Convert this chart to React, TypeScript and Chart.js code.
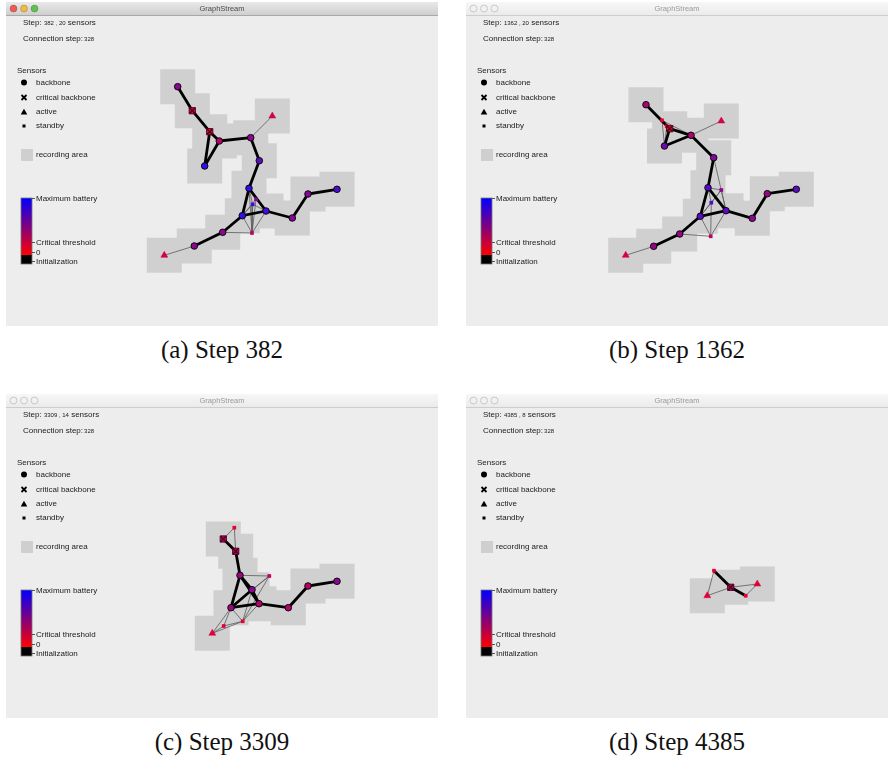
import React, { useEffect, useRef } from "react";
import { Chart, registerables } from "chart.js";
Chart.register(...registerables);

// ---------- Panel (a) Step 382 ----------
const aX = [177.7, 192.3, 209.7, 219.3, 204.7, 250.7, 272.3, 259.3, 249, 256, 252.7, 266, 242.3, 292.3, 308, 337, 222.7, 252, 194.3, 164.3];
const aY = [86.7, 110.7, 131.7, 141, 166, 137.7, 116, 160.7, 188.3, 199.3, 204.3, 211, 215.7, 218, 194, 189.3, 232.3, 233, 246, 255.3];
const aKind = ["b", "c", "c", "b", "b", "b", "a", "b", "b", "s", "s", "b", "b", "b", "b", "b", "b", "s", "b", "a"];
const aBattery = [0.5, 0.1, 0.1, 0.3, 0.95, 0.5, 0.15, 0.75, 0.95, 0.55, 0.9, 0.9, 0.95, 0.55, 0.55, 0.85, 0.5, 0.25, 0.5, 0.15];
const aThick = [[0, 1], [1, 2], [2, 3], [2, 4], [3, 4], [3, 5], [5, 7], [7, 8], [8, 12], [8, 11], [12, 11], [11, 13], [13, 14], [14, 15], [12, 16], [16, 18]];
const aThin = [[5, 6], [18, 19], [16, 17], [12, 17], [8, 17], [9, 17], [10, 17], [11, 17], [8, 9], [8, 10], [9, 11], [10, 11], [9, 12], [10, 12]];

// ---------- Panel (b) Step 1362 ----------
const bX = [646, 662, 666.7, 669.7, 664.5, 691, 721.3, 713.7, 708, 721.3, 711.3, 726, 700.3, 752.3, 767.3, 796.3, 679.7, 710.7, 653.7, 625.7];
const bY = [104.7, 120.3, 126.3, 128.7, 146, 135.3, 121, 157.7, 187.7, 190, 202.7, 210.7, 216.3, 218.3, 193.7, 189.3, 234, 236.3, 246.3, 255.3];
const bKind = ["b", "s", "s", "c", "b", "b", "a", "b", "b", "s", "s", "b", "b", "b", "b", "b", "b", "s", "b", "a"];
const bBattery = [0.35, 0.02, 0.02, 0.05, 0.65, 0.35, 0.12, 0.55, 0.78, 0.5, 0.85, 0.75, 0.78, 0.5, 0.45, 0.75, 0.45, 0.25, 0.45, 0.12];
const bThick = [[0, 3], [3, 4], [3, 5], [4, 5], [5, 7], [7, 8], [8, 12], [8, 11], [12, 11], [11, 13], [13, 14], [14, 15], [12, 16], [16, 18]];
const bThin = [[0, 1], [1, 4], [1, 5], [2, 4], [2, 5], [5, 6], [7, 11], [8, 9], [8, 10], [9, 11], [9, 10], [10, 12], [10, 17], [12, 17], [11, 17], [16, 17], [18, 19], [12, 9]];

// ---------- Panel (c) Step 3309 ----------
const cX = [234.3, 223.3, 235.7, 240, 269.3, 252, 259, 231, 288.3, 308, 337, 242.7, 223.7, 212.3];
const cY = [527.7, 539, 551.3, 575.3, 576, 589.7, 603.7, 607.7, 607.7, 586, 581.3, 621.3, 626, 633.3];
const cKind = ["s", "c", "c", "b", "s", "b", "b", "b", "b", "b", "b", "s", "s", "a"];
const cBattery = [0.02, 0.3, 0.3, 0.45, 0.25, 0.5, 0.3, 0.4, 0.3, 0.3, 0.5, 0.05, 0.05, 0.08];
const cThick = [[1, 2], [2, 3], [3, 7], [3, 6], [3, 5], [5, 7], [5, 6], [6, 7], [6, 8], [8, 9], [9, 10]];
const cThin = [[0, 1], [0, 2], [3, 4], [4, 5], [4, 7], [4, 11], [5, 11], [7, 11], [7, 12], [7, 13], [6, 11], [11, 12], [11, 13], [12, 13]];

// ---------- Panel (d) Step 4385 ----------
const dX = [714, 707.3, 730.7, 757.3, 745.7];
const dY = [570.7, 595.7, 587.3, 584, 595.7];
const dKind = ["s", "a", "c", "a", "s"];
const dBattery = [0.02, 0.05, 0.3, 0.05, 0.02];
const dThick = [[0, 2], [2, 4]];
const dThin = [[0, 1], [1, 2], [2, 3], [3, 4]];

// ---------- Texts ----------
const steps = ["382", "1362", "3309", "4385"];
const sensorCounts = ["20", "20", "14", "8"];
const connectionStep = "328";
const captions = ["(a) Step 382", "(b) Step 1362", "(c) Step 3309", "(d) Step 4385"];
const legendLabels = ["backbone", "critical backbone", "active", "standby"];
const batteryLabels = ["Maximum battery", "Critical threshold", "0", "Initialization"];

const FONT = '"Liberation Sans", Arial, sans-serif';

function batteryColor(b: number) {
  const r = Math.round(235 + (45 - 235) * b);
  const g = Math.round(0 + 14 * b);
  const bl = Math.round(45 + (240 - 45) * b);
  return `rgb(${r},${g},${bl})`;
}

type PanelDef = {
  left: number; top: number; w: number; h: number; active: boolean;
  X: number[]; Y: number[]; kind: string[]; battery: number[]; thick: number[][]; thin: number[][];
  step: string; count: string;
};

const panels: PanelDef[] = [
  { left: 6, top: 2, w: 432, h: 324, active: true, X: aX, Y: aY, kind: aKind, battery: aBattery, thick: aThick, thin: aThin, step: steps[0], count: sensorCounts[0] },
  { left: 466, top: 2, w: 422, h: 324, active: false, X: bX, Y: bY, kind: bKind, battery: bBattery, thick: bThick, thin: bThin, step: steps[1], count: sensorCounts[1] },
  { left: 6, top: 394, w: 432, h: 324, active: false, X: cX, Y: cY, kind: cKind, battery: cBattery, thick: cThick, thin: cThin, step: steps[2], count: sensorCounts[2] },
  { left: 466, top: 394, w: 422, h: 324, active: false, X: dX, Y: dY, kind: dKind, battery: dBattery, thick: dThick, thin: dThin, step: steps[3], count: sensorCounts[3] },
];

function chromePlugin(p: PanelDef) {
  return {
    id: "chrome",
    beforeDraw(chart: any) {
      const ctx = chart.ctx as CanvasRenderingContext2D;
      const w = chart.width;
      const h = chart.height;
      ctx.save();
      ctx.fillStyle = "#ededed";
      ctx.fillRect(0, 0, w, h);
      // title bar
      const g = ctx.createLinearGradient(0, 0, 0, 13);
      if (p.active) {
        g.addColorStop(0, "#e9e9e9");
        g.addColorStop(1, "#cfcfcf");
      } else {
        g.addColorStop(0, "#f7f7f7");
        g.addColorStop(1, "#ebebeb");
      }
      ctx.fillStyle = g;
      ctx.fillRect(0, 0, w, 13);
      ctx.fillStyle = p.active ? "#a8a8a8" : "#cdcdcd";
      ctx.fillRect(0, 13, w, 1);
      const lights = p.active ? ["#ee5b52", "#f3b842", "#5fc24f"] : ["#f1f1f1", "#f1f1f1", "#f1f1f1"];
      lights.forEach((c, i) => {
        ctx.beginPath();
        ctx.arc(7.5 + i * 10.5, 6.5, 3.5, 0, Math.PI * 2);
        ctx.fillStyle = c;
        ctx.fill();
        ctx.lineWidth = 0.7;
        ctx.strokeStyle = p.active ? "rgba(0,0,0,0.25)" : "#b8b8b8";
        ctx.stroke();
      });
      ctx.fillStyle = p.active ? "#4a4a4a" : "#9a9a9a";
      ctx.font = `7.5px ${FONT}`;
      ctx.textAlign = "center";
      ctx.textBaseline = "middle";
      ctx.fillText("GraphStream", w / 2, 7);

      // step texts
      ctx.textAlign = "left";
      ctx.fillStyle = "#1a1a1a";
      const big = `8px ${FONT}`;
      const small = `6px ${FONT}`;
      let x = 17;
      ctx.font = big;
      ctx.fillText("Step: ", x, 20.5);
      x += ctx.measureText("Step: ").width;
      ctx.font = small;
      const mid = `${p.step} , ${p.count}`;
      ctx.fillText(mid, x, 21);
      x += ctx.measureText(mid).width;
      ctx.font = big;
      ctx.fillText(" sensors", x, 20.5);

      x = 17;
      ctx.fillText("Connection step:", x, 37);
      x += ctx.measureText("Connection step:").width + 1;
      ctx.font = small;
      ctx.fillText(connectionStep, x, 37.5);

      // legend
      ctx.font = big;
      ctx.fillText("Sensors", 11, 68.5);
      const ly = [80.5, 95.5, 110, 124];
      legendLabels.forEach((t, i) => ctx.fillText(t, 30, ly[i]));
      ctx.fillStyle = "#000";
      ctx.strokeStyle = "#000";
      ctx.beginPath();
      ctx.arc(18, ly[0], 3, 0, Math.PI * 2);
      ctx.fill();
      ctx.lineWidth = 1.8;
      ctx.beginPath();
      ctx.moveTo(15.5, ly[1] - 2.5);
      ctx.lineTo(20.5, ly[1] + 2.5);
      ctx.moveTo(20.5, ly[1] - 2.5);
      ctx.lineTo(15.5, ly[1] + 2.5);
      ctx.stroke();
      ctx.beginPath();
      ctx.moveTo(18, ly[2] - 3.2);
      ctx.lineTo(21.3, ly[2] + 2.5);
      ctx.lineTo(14.7, ly[2] + 2.5);
      ctx.closePath();
      ctx.fill();
      ctx.fillRect(16.5, ly[3] - 1.5, 3, 3);
      ctx.fillStyle = "#cfcfcf";
      ctx.fillRect(15, 147, 12, 12);
      ctx.fillStyle = "#1a1a1a";
      ctx.fillText("recording area", 30, 153);

      // battery bar
      const top = 196, crit = 253, bottom = 262;
      const bg = ctx.createLinearGradient(0, top, 0, crit);
      bg.addColorStop(0, "#0000ff");
      bg.addColorStop(0.5, "#800080");
      bg.addColorStop(1, "#ff0000");
      ctx.fillStyle = bg;
      ctx.fillRect(15, top, 11, crit - top);
      ctx.fillStyle = "#000";
      ctx.fillRect(15, crit, 11, bottom - crit);
      ctx.strokeStyle = "#777";
      ctx.lineWidth = 0.8;
      ctx.strokeRect(15, top, 11, bottom - top);
      const by = [196, 240, 250, 259];
      ctx.strokeStyle = "#333";
      by.forEach((yy) => {
        ctx.beginPath();
        ctx.moveTo(26, yy + 0.5);
        ctx.lineTo(29, yy + 0.5);
        ctx.stroke();
      });
      ctx.fillStyle = "#1a1a1a";
      ctx.font = big;
      batteryLabels.forEach((t, i) => ctx.fillText(t, 30, by[i] + 0.5));
      ctx.restore();
    },
  };
}

function buildDatasets(p: PanelDef) {
  const ds: any[] = [];
  const pt = (i: number) => ({ x: p.X[i], y: p.Y[i] });
  const idx = p.X.map((_, i) => i);
  const areaIdx = idx.filter((i) => p.kind[i] !== "s");
  ds.push({
    type: "scatter",
    order: 10,
    data: areaIdx.map(pt),
    pointStyle: "rect",
    pointRadius: 24.75,
    backgroundColor: "#d0d0d0",
    borderWidth: 0,
  });
  p.thin.forEach(([s, t]) => {
    ds.push({
      type: "line",
      order: 8,
      data: [pt(s), pt(t)],
      borderColor: "#5a5a5a",
      borderWidth: 0.8,
      pointRadius: 0,
      fill: false,
    });
  });
  p.thick.forEach(([s, t]) => {
    ds.push({
      type: "line",
      order: 6,
      data: [pt(s), pt(t)],
      borderColor: "#000",
      borderWidth: 2.8,
      pointRadius: 0,
      fill: false,
      borderCapStyle: "round",
    });
  });
  const group = (k: string) => idx.filter((i) => p.kind[i] === k);
  const bIdx = group("b");
  ds.push({
    type: "scatter",
    order: 2,
    data: bIdx.map(pt),
    pointStyle: "circle",
    pointRadius: 3.3,
    backgroundColor: bIdx.map((i) => batteryColor(p.battery[i])),
    borderColor: "#000",
    borderWidth: 0.9,
  });
  const cIdx = group("c");
  ds.push({
    type: "scatter",
    order: 2,
    data: cIdx.map(pt),
    pointStyle: "rect",
    pointRadius: 4.5,
    backgroundColor: cIdx.map((i) => batteryColor(p.battery[i])),
    borderColor: "#3a0010",
    borderWidth: 0.8,
  });
  ds.push({
    type: "scatter",
    order: 1,
    data: cIdx.map(pt),
    pointStyle: "crossRot",
    pointRadius: 3.6,
    borderColor: "#3a0010",
    borderWidth: 1.1,
  });
  const tIdx = group("a");
  ds.push({
    type: "scatter",
    order: 2,
    data: tIdx.map(pt),
    pointStyle: "triangle",
    pointRadius: 4,
    backgroundColor: tIdx.map((i) => batteryColor(p.battery[i])),
    borderColor: tIdx.map((i) => batteryColor(p.battery[i])),
    borderWidth: 0.5,
  });
  const sIdx = group("s");
  ds.push({
    type: "scatter",
    order: 2,
    data: sIdx.map(pt),
    pointStyle: "rect",
    pointRadius: 2.6,
    backgroundColor: sIdx.map((i) => batteryColor(p.battery[i])),
    borderColor: sIdx.map((i) => batteryColor(p.battery[i])),
    borderWidth: 0,
  });
  return ds;
}

function Panel({ p }: { p: PanelDef }) {
  const ref = useRef<HTMLCanvasElement>(null);
  useEffect(() => {
    if (!ref.current) return;
    const chart = new Chart(ref.current, {
      type: "scatter",
      data: { datasets: buildDatasets(p) },
      options: {
        responsive: false,
        animation: false,
        events: [],
        layout: { padding: 0, autoPadding: false },
        plugins: { legend: { display: false }, tooltip: { enabled: false } },
        scales: {
          x: { type: "linear", min: p.left, max: p.left + p.w, display: false },
          y: { type: "linear", min: p.top, max: p.top + p.h, reverse: true, display: false },
        },
      } as any,
      plugins: [chromePlugin(p)],
    });
    return () => chart.destroy();
  }, [p]);
  return (
    <canvas
      ref={ref}
      width={p.w}
      height={p.h}
      style={{ position: "absolute", left: p.left, top: p.top, width: p.w, height: p.h }}
    />
  );
}

export default function App() {
  return (
    <div style={{ position: "absolute", left: 0, top: 0, width: 888, height: 761, background: "#fff", overflow: "hidden" }}>
      {panels.map((p, i) => (
        <Panel key={i} p={p} />
      ))}
      {panels.map((p, i) => (
        <div
          key={"c" + i}
          style={{
            position: "absolute",
            left: p.left,
            width: p.w,
            top: p.top + p.h + 8,
            textAlign: "center",
            fontFamily: '"Liberation Serif", "DejaVu Serif", serif',
            fontSize: 25,
            lineHeight: "32px",
            color: "#111",
          }}
        >
          {captions[i]}
        </div>
      ))}
    </div>
  );
}
